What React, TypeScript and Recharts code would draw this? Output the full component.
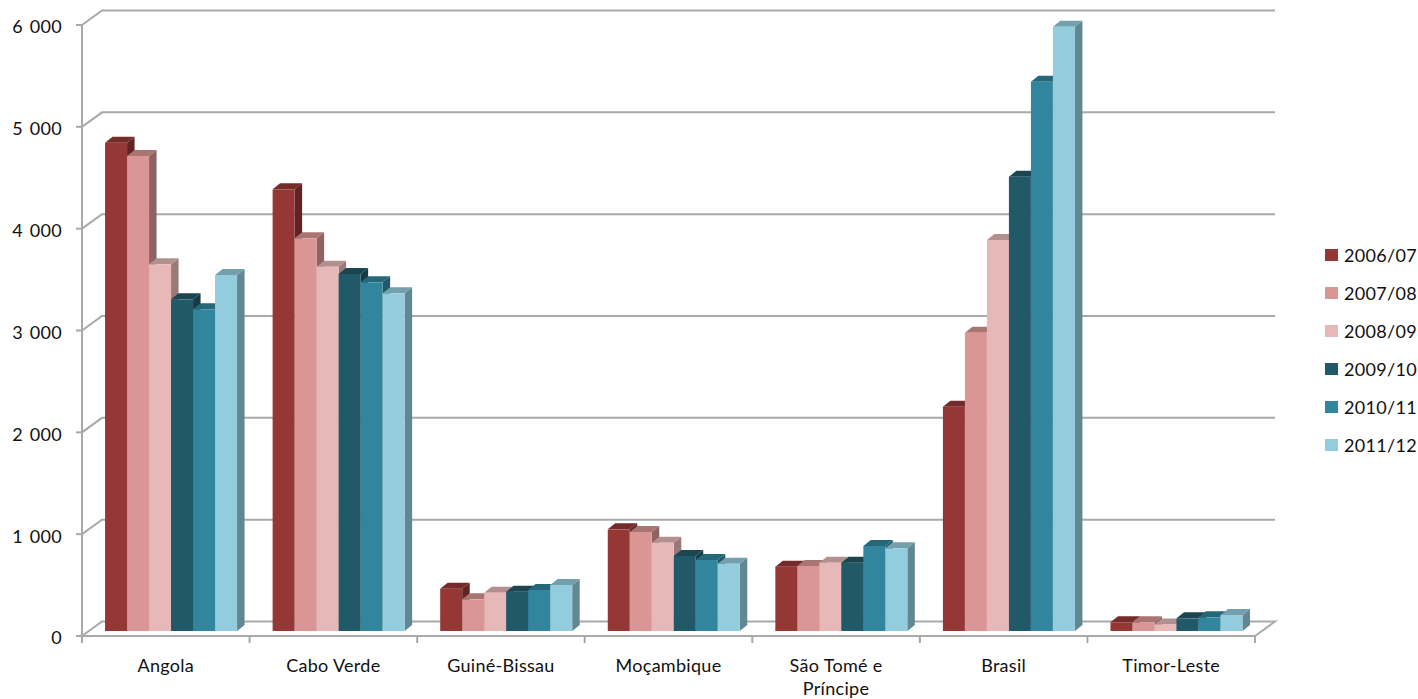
import { Bar, BarChart, CartesianGrid, Legend, XAxis, YAxis } from "recharts";

const COUNTRIES = [
  "Angola",
  "Cabo Verde",
  "Guiné-Bissau",
  "Moçambique",
  "São Tomé e Príncipe",
  "Brasil",
  "Timor-Leste",
];

const YEARS = ["2006/07", "2007/08", "2008/09", "2009/10", "2010/11", "2011/12"];
const COLORS = ["#953735", "#D99694", "#E6B9B8", "#215968", "#31859C", "#93CDDD"];

const VALUES_0607 = [4795, 4337, 416, 998, 632, 2203, 85];
const VALUES_0708 = [4665, 3856, 311, 972, 638, 2930, 85];
const VALUES_0809 = [3601, 3578, 376, 867, 671, 3840, 65];
const VALUES_0910 = [3257, 3506, 386, 737, 671, 4461, 124];
const VALUES_1011 = [3159, 3424, 403, 697, 835, 5394, 134];
const VALUES_1112 = [3496, 3316, 452, 661, 812, 5934, 157];

const SERIES = [VALUES_0607, VALUES_0708, VALUES_0809, VALUES_0910, VALUES_1011, VALUES_1112];
const Y_TICKS = [0, 1000, 2000, 3000, 4000, 5000, 6000];

const rows = COUNTRIES.map((name, i) => {
  const row: Record<string, string | number> = { name };
  YEARS.forEach((year, s) => {
    row[year] = SERIES[s][i];
  });
  return row;
});

const FONT = "Lato, sans-serif";
const FONT_SIZE = 18;
const LETTER_SPACING = 0.3;
const LINE = "#a9a9a9";
const TEXT = "#111";

const WIDTH = 1418;
const MARGIN_RIGHT = 163;
const Y_AXIS_WIDTH = 82;
const BAND = (WIDTH - MARGIN_RIGHT - Y_AXIS_WIDTH) / COUNTRIES.length;

// plot box of the front plane
const PLOT_BOTTOM = 636;
const WALL_DX = 20;
const WALL_DY = 14.5;

// how far the columns sit behind the front plane, and how deep they are
const BAR_DX = 6.3;
const BAR_DY = -5;
const DEPTH_X = 7.5;
const DEPTH_Y = 6;

function shade(hex: string, k: number) {
  const n = parseInt(hex.slice(1), 16);
  const c = [(n >> 16) & 255, (n >> 8) & 255, n & 255].map((v) => Math.round(v * k));
  return `rgb(${c[0]},${c[1]},${c[2]})`;
}

function Column(props: any) {
  const { x, y, width, height, fill } = props;
  const left = x + BAR_DX;
  const right = left + width;
  const top = y + BAR_DY;
  const bottom = top + height;
  return (
    <g>
      <polygon
        points={`${right},${top} ${right + DEPTH_X},${top - DEPTH_Y} ${right + DEPTH_X},${bottom - DEPTH_Y} ${right},${bottom}`}
        fill={shade(fill, 0.66)}
      />
      <polygon
        points={`${left},${top} ${left + DEPTH_X},${top - DEPTH_Y} ${right + DEPTH_X},${top - DEPTH_Y} ${right},${top}`}
        fill={shade(fill, 0.78)}
      />
      <rect x={left} y={top} width={width} height={height} fill={fill} />
    </g>
  );
}

// each horizontal line runs up the side wall and along the back; the zero line also closes the floor
function WallLine(props: any) {
  const { x1, x2, y1, index } = props;
  const isFloor = Math.abs(y1 - PLOT_BOTTOM) < 1;
  const backY = y1 - WALL_DY;
  const points = isFloor
    ? `${x1},${y1} ${x1 + WALL_DX},${backY} ${x2 + WALL_DX},${backY} ${x2},${y1}`
    : `${x1},${y1} ${x1 + WALL_DX},${backY} ${x2 + WALL_DX},${backY}`;
  return <polyline key={`wall-${index}-${y1}`} points={points} fill="none" stroke={LINE} strokeWidth={2} />;
}

// labels stay centred on the band, the tick marks go on the band edges
function CountryTick(props: any) {
  const { x, y, payload, index } = props;
  const label: string = payload.value;
  const lines = label === "São Tomé e Príncipe" ? ["São Tomé e", "Príncipe"] : [label];
  const edge = x - BAND / 2;
  const axisY = PLOT_BOTTOM;
  return (
    <g>
      <line x1={edge} x2={edge} y1={axisY} y2={axisY + 7} stroke={LINE} strokeWidth={2} />
      {index === COUNTRIES.length - 1 && (
        <line x1={edge + BAND} x2={edge + BAND} y1={axisY} y2={axisY + 7} stroke={LINE} strokeWidth={2} />
      )}
      <text x={x} textAnchor="middle" fontFamily={FONT} fontSize={FONT_SIZE} letterSpacing={LETTER_SPACING} fill={TEXT}>
        {lines.map((line, i) => (
          <tspan key={line} x={x} y={axisY + 36 + i * 23}>
            {line}
          </tspan>
        ))}
      </text>
    </g>
  );
}

function YearLegend(props: any) {
  const items: any[] = props.payload ?? [];
  return (
    <div style={{ fontFamily: FONT, fontSize: FONT_SIZE, letterSpacing: LETTER_SPACING, color: TEXT }}>
      {items.map((item) => (
        <div key={item.value} style={{ display: "flex", alignItems: "center", height: 38 }}>
          <span style={{ width: 13, height: 12, marginRight: 6, background: item.color }} />
          <span>{item.value}</span>
        </div>
      ))}
    </div>
  );
}

const formatThousands = (v: number) => String(v).replace(/\B(?=(\d{3})+$)/g, " ");

export default function App() {
  return (
    <div style={{ position: "absolute", left: 0, top: 0 }}>
      <BarChart
        width={WIDTH}
        height={699}
        data={rows}
        margin={{ top: 25, right: MARGIN_RIGHT, bottom: 0, left: 0 }}
        barCategoryGap="10%"
        barGap={0}
      >
        <CartesianGrid vertical={false} horizontal={WallLine} />
        <XAxis
          dataKey="name"
          height={63}
          interval={0}
          tick={CountryTick}
          tickLine={false}
          axisLine={{ stroke: LINE, strokeWidth: 2 }}
        />
        <YAxis
          width={Y_AXIS_WIDTH}
          domain={[0, 6000]}
          ticks={Y_TICKS}
          tickFormatter={formatThousands}
          tickSize={6}
          tickMargin={14}
          axisLine={{ stroke: LINE, strokeWidth: 2 }}
          tickLine={{ stroke: LINE, strokeWidth: 2 }}
          tick={{ fontFamily: FONT, fontSize: FONT_SIZE, letterSpacing: LETTER_SPACING, wordSpacing: 2, fill: TEXT, dy: 2 }}
        />
        <Legend
          layout="vertical"
          align="center"
          verticalAlign="middle"
          content={YearLegend}
          wrapperStyle={{ left: 1325, top: 236, width: 93 }}
        />
        {YEARS.map((year, s) => (
          <Bar key={year} dataKey={year} fill={COLORS[s]} shape={Column} isAnimationActive={false} />
        ))}
      </BarChart>
    </div>
  );
}
